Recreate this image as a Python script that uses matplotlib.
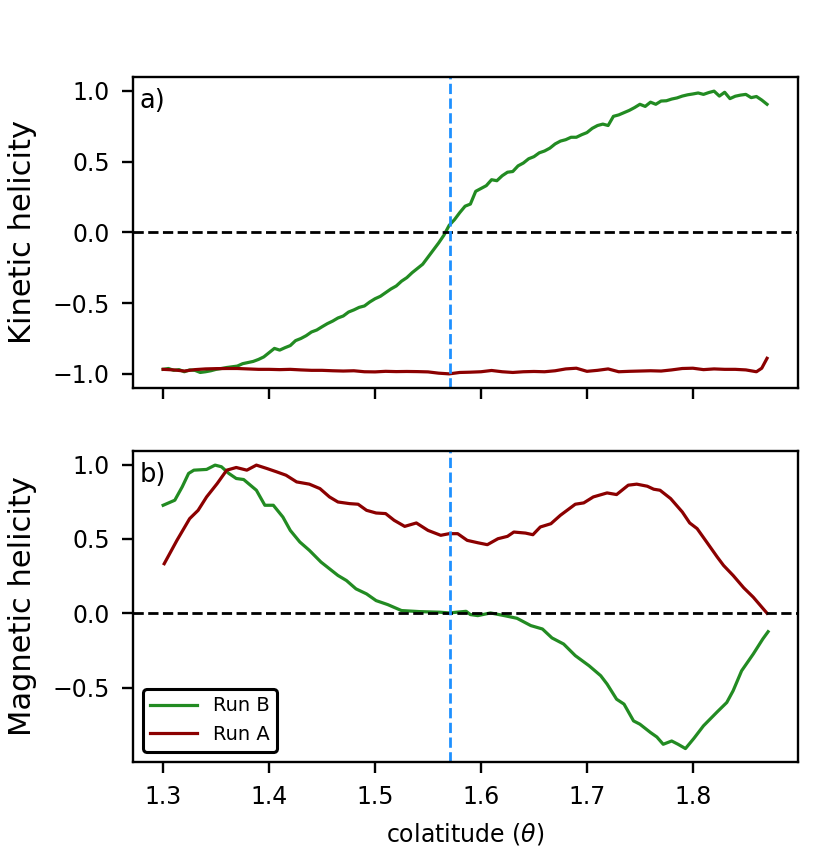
import numpy as np
import matplotlib.pyplot as plt

# Kinetic helicity, Run B (noisy, read on a 0.005 grid)
kin_b_theta = np.linspace(1.30, 1.87, 115)
kin_b = [
    -0.968, -0.962, -0.975, -0.970, -0.985, -0.972, -0.975, -0.990, -0.985, -0.978,
    -0.968, -0.962, -0.955, -0.950, -0.945, -0.928, -0.920, -0.912, -0.898, -0.880,
    -0.850, -0.820, -0.832, -0.815, -0.800, -0.765, -0.750, -0.730, -0.704, -0.690,
    -0.667, -0.645, -0.627, -0.605, -0.591, -0.563, -0.548, -0.530, -0.520, -0.492,
    -0.469, -0.452, -0.426, -0.400, -0.379, -0.345, -0.320, -0.285, -0.255, -0.225,
    -0.175, -0.125, -0.075, -0.020, 0.050, 0.090, 0.140, 0.185, 0.200, 0.290,
    0.310, 0.330, 0.372, 0.365, 0.400, 0.425, 0.430, 0.470, 0.490, 0.520,
    0.535, 0.562, 0.575, 0.595, 0.625, 0.645, 0.655, 0.672, 0.672, 0.690,
    0.705, 0.735, 0.755, 0.765, 0.755, 0.820, 0.830, 0.846, 0.862, 0.882,
    0.905, 0.890, 0.920, 0.905, 0.928, 0.930, 0.942, 0.950, 0.963, 0.972,
    0.978, 0.985, 0.975, 0.988, 0.998, 0.963, 0.990, 0.945, 0.962, 0.970,
    0.975, 0.952, 0.960, 0.935, 0.905]

# Kinetic helicity, Run A
kin_a_theta = np.r_[np.linspace(1.30, 1.86, 57), 1.865, 1.870]
kin_a = [
    -0.968, -0.972, -0.980, -0.970, -0.965, -0.963, -0.962, -0.962, -0.965, -0.968,
    -0.968, -0.970, -0.968, -0.972, -0.975, -0.975, -0.978, -0.980, -0.978, -0.985,
    -0.986, -0.982, -0.984, -0.983, -0.984, -0.986, -0.995, -1.000, -0.990, -0.988,
    -0.985, -0.976, -0.985, -0.990, -0.985, -0.983, -0.985, -0.978, -0.965, -0.960,
    -0.982, -0.975, -0.965, -0.985, -0.982, -0.980, -0.978, -0.980, -0.972, -0.962,
    -0.960, -0.970, -0.965, -0.968, -0.968, -0.972, -0.985, -0.960, -0.890]

# Magnetic helicity, Run B
mag_b_theta = [1.300, 1.311, 1.318, 1.324, 1.329, 1.341, 1.349, 1.355, 1.362, 1.369,
               1.376, 1.388, 1.396, 1.404, 1.413, 1.420, 1.429, 1.438, 1.449, 1.457,
               1.465, 1.473, 1.482, 1.492, 1.501, 1.512, 1.525, 1.542, 1.561, 1.570,
               1.586, 1.590, 1.597, 1.609, 1.622, 1.634, 1.647, 1.658, 1.667, 1.678,
               1.689, 1.702, 1.713, 1.719, 1.728, 1.735, 1.744, 1.750, 1.760, 1.766,
               1.772, 1.780, 1.786, 1.793, 1.801, 1.810, 1.823, 1.832, 1.838, 1.846,
               1.857, 1.866, 1.871]
mag_b = [0.726, 0.760, 0.850, 0.940, 0.962, 0.967, 0.996, 0.985, 0.940, 0.906,
         0.899, 0.827, 0.726, 0.726, 0.647, 0.557, 0.479, 0.423, 0.344, 0.299,
         0.254, 0.220, 0.164, 0.130, 0.085, 0.058, 0.018, 0.011, 0.007, 0.002,
         0.013, -0.009, -0.016, 0.002, -0.016, -0.034, -0.083, -0.106, -0.166, -0.207,
         -0.285, -0.353, -0.420, -0.476, -0.578, -0.611, -0.724, -0.746, -0.802, -0.832,
         -0.881, -0.859, -0.881, -0.910, -0.841, -0.757, -0.663, -0.600, -0.521, -0.387,
         -0.274, -0.173, -0.124]

# Magnetic helicity, Run A
mag_a_theta = [1.301, 1.313, 1.325, 1.333, 1.341, 1.351, 1.360, 1.369, 1.379, 1.388,
               1.398, 1.407, 1.416, 1.426, 1.438, 1.448, 1.457, 1.465, 1.476, 1.484,
               1.492, 1.501, 1.510, 1.518, 1.528, 1.539, 1.550, 1.562, 1.570, 1.578,
               1.587, 1.597, 1.606, 1.616, 1.625, 1.631, 1.642, 1.649, 1.656, 1.666,
               1.675, 1.689, 1.697, 1.706, 1.719, 1.728, 1.739, 1.747, 1.757, 1.763,
               1.769, 1.779, 1.790, 1.797, 1.804, 1.813, 1.823, 1.829, 1.838, 1.848,
               1.857, 1.870]
mag_a = [0.333, 0.490, 0.636, 0.692, 0.782, 0.872, 0.962, 0.980, 0.962, 0.996,
         0.973, 0.951, 0.928, 0.883, 0.868, 0.838, 0.782, 0.748, 0.737, 0.733,
         0.692, 0.674, 0.670, 0.625, 0.584, 0.607, 0.557, 0.524, 0.535, 0.535,
         0.490, 0.474, 0.461, 0.501, 0.517, 0.546, 0.539, 0.528, 0.580, 0.602,
         0.659, 0.733, 0.742, 0.782, 0.809, 0.798, 0.861, 0.868, 0.854, 0.834,
         0.827, 0.771, 0.681, 0.607, 0.569, 0.479, 0.378, 0.321, 0.254, 0.171,
         0.108, 0.000]

lw = 2.3
dash_lw = 2.0
fig = plt.figure(figsize=(8.31, 8.56), dpi=100)
ax1 = fig.add_axes([0.160, 0.5467, 0.800, 0.3637])
ax2 = fig.add_axes([0.160, 0.1102, 0.800, 0.3633], sharex=ax1)

# top panel
ax1.plot(kin_b_theta, kin_b, color='forestgreen', lw=lw)
ax1.plot(kin_a_theta, kin_a, color='darkred', lw=lw)
ax1.axhline(0, color='k', ls='--', lw=dash_lw)
ax1.axvline(np.pi / 2, color='dodgerblue', ls='--', lw=dash_lw)
ax1.set_ylim(-1.1, 1.1)
ax1.set_ylabel('Kinetic helicity', fontsize=22)
ax1.text(0.01, 0.965, 'a)', transform=ax1.transAxes, fontsize=18.5, va='top')
ax1.tick_params(labelbottom=False)

# bottom panel
ax2.plot(mag_b_theta, mag_b, color='forestgreen', lw=lw, label='Run B')
ax2.plot(mag_a_theta, mag_a, color='darkred', lw=lw, label='Run A')
ax2.axhline(0, color='k', ls='--', lw=dash_lw)
ax2.axvline(np.pi / 2, color='dodgerblue', ls='--', lw=dash_lw)
ax2.set_ylim(-0.998, 1.093)
ax2.set_ylabel('Magnetic helicity', fontsize=22)
ax2.set_xlabel(r'colatitude ($\theta$)', fontsize=17, labelpad=8.5)
ax2.text(0.01, 0.965, 'b)', transform=ax2.transAxes, fontsize=18.5, va='top')
leg = ax2.legend(loc='lower left', fontsize=14, handlelength=2.4,
                 framealpha=1, edgecolor='k', fancybox=True)
leg.get_frame().set_linewidth(2.2)

ax1.set_xlim(1.2715, 1.899)
for ax in (ax1, ax2):
    ax.tick_params(length=8, width=1.7, pad=8.8, labelsize=17)
    for s in ax.spines.values():
        s.set_linewidth(1.7)
    ax.yaxis.set_label_coords(-0.145, 0.5)

fig.savefig('out.png', dpi=100)
